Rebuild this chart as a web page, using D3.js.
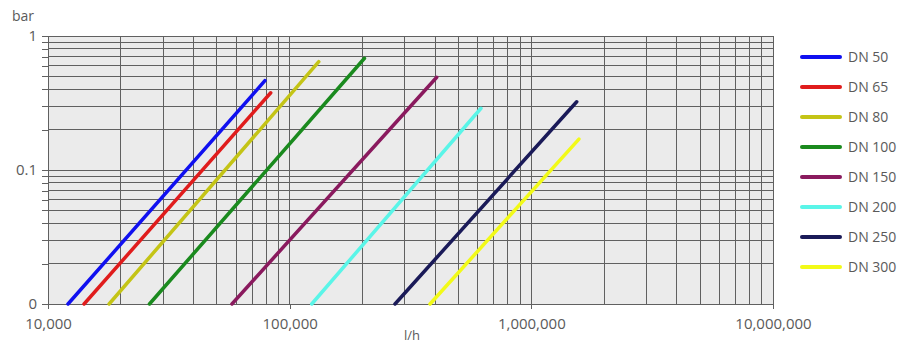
<!DOCTYPE html>
<html>
<head>
<meta charset="utf-8">
<script src="https://cdn.jsdelivr.net/npm/d3@7"></script>
<style>
  html, body { margin: 0; padding: 0; background: #fff; }
  svg { display: block; }
  text { font-family: "Open Sans", "Noto Sans", sans-serif; fill: #5a5a5a; }
</style>
</head>
<body>
<svg id="chart" width="914" height="345"></svg>
<script>
// ---- data ----
const categories = ["DN 50", "DN 65", "DN 80", "DN 100", "DN 150", "DN 200", "DN 250", "DN 300"];
const colors = ["#1010f0", "#e01c1c", "#c4c416", "#1a8a1e", "#8a1a5e", "#5af5e8", "#1a1a58", "#f2fa18"];
const flowStart = [12100, 14100, 17900, 26300, 57700, 123400, 272800, 380900];
const flowEnd = [79000, 83500, 132000, 204000, 406000, 619000, 1541000, 1574000];
const pressureStart = [0.01, 0.01, 0.01, 0.01, 0.01, 0.01, 0.01, 0.01];
const pressureEnd = [0.464, 0.377, 0.643, 0.682, 0.492, 0.289, 0.323, 0.170];
const xTickValues = [1e4, 1e5, 1e6, 1e7];
const xTickLabels = ["10,000", "100,000", "1,000,000", "10,000,000"];
const yTickValues = [0.01, 0.1, 1];
const yTickLabels = ["0", "0.1", "1"];

// ---- layout ----
const svg = d3.select("#chart");
const pL = 48, pR = 773, pT = 36, pB = 304;

const x = d3.scaleLog().domain([1e4, 1e7]).range([pL, pR]);
const y = d3.scaleLog().domain([0.01, 1]).range([pB, pT]);

// plot background
svg.append("rect")
  .attr("x", pL).attr("y", pT)
  .attr("width", pR - pL).attr("height", pB - pT)
  .attr("fill", "#ebebeb");

// grid
const gridColor = "#606060";
const g = svg.append("g");
g.selectAll(".vg").data(x.ticks()).join("line")
  .attr("x1", d => x(d)).attr("x2", d => x(d))
  .attr("y1", pT).attr("y2", pB)
  .attr("stroke", gridColor).attr("stroke-width", 1).attr("shape-rendering", "crispEdges");
g.selectAll(".hg").data(y.ticks()).join("line")
  .attr("x1", pL).attr("x2", pR)
  .attr("y1", d => y(d)).attr("y2", d => y(d))
  .attr("stroke", gridColor).attr("stroke-width", 1).attr("shape-rendering", "crispEdges");

// axes
const xAxis = svg.append("g")
  .attr("transform", `translate(0,${pB})`)
  .call(d3.axisBottom(x).tickValues(xTickValues)
    .tickFormat((d, i) => xTickLabels[i]).tickSize(5).tickPadding(9));
const yAxis = svg.append("g")
  .attr("transform", `translate(${pL},0)`)
  .call(d3.axisLeft(y).tickValues(y.ticks())
    .tickFormat(d => { const i = yTickValues.findIndex(v => Math.abs(v - d) < 1e-9); return i >= 0 ? yTickLabels[i] : ""; })
    .tickSize(6).tickPadding(5));
[xAxis, yAxis].forEach(a => {
  a.selectAll("path, line").attr("stroke", "#606060").attr("shape-rendering", "crispEdges");
  a.selectAll("text").style("font-size", "15px").attr("fill", "#5a5a5a");
});
yAxis.selectAll("text").attr("dy", "0.28em");
xAxis.select(".domain").remove();
yAxis.select(".domain").remove();
svg.append("line").attr("x1", pL).attr("x2", pR).attr("y1", pB).attr("y2", pB)
  .attr("stroke", "#606060").attr("shape-rendering", "crispEdges");
svg.append("line").attr("x1", pL).attr("x2", pL).attr("y1", pT).attr("y2", pB)
  .attr("stroke", "#606060").attr("shape-rendering", "crispEdges");

// axis titles
svg.append("text").attr("x", 12).attr("y", 21).style("font-size", "14px").text("bar");
svg.append("text").attr("x", 412).attr("y", 340).attr("text-anchor", "middle").style("font-size", "13px").text("l/h");

// series lines
const series = categories.map((c, i) => ({
  name: c, color: colors[i],
  pts: [[flowStart[i], pressureStart[i]], [flowEnd[i], pressureEnd[i]]]
}));
const line = d3.line().x(d => x(d[0])).y(d => y(d[1]));
svg.append("g").selectAll("path").data(series).join("path")
  .attr("d", d => line(d.pts))
  .attr("fill", "none")
  .attr("stroke", d => d.color)
  .attr("stroke-width", 3.5)
  .attr("stroke-linecap", "round");

// legend
const leg = svg.append("g").attr("transform", "translate(802,57)");
const items = leg.selectAll("g").data(series).join("g")
  .attr("transform", (d, i) => `translate(0,${i * 30})`);
items.append("line").attr("x1", 0).attr("x2", 38).attr("y1", 0).attr("y2", 0)
  .attr("stroke", d => d.color).attr("stroke-width", 4).attr("stroke-linecap", "round");
items.append("text").attr("x", 46).attr("y", 5).style("font-size", "14px").text(d => d.name);
</script>
</body>
</html>
